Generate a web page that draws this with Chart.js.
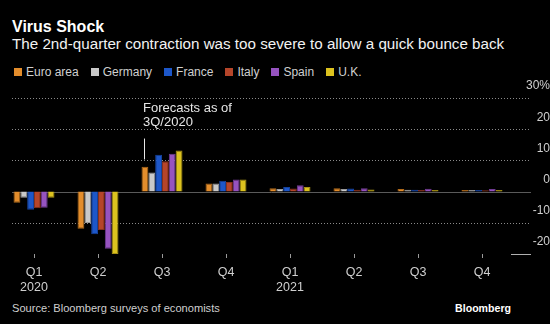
<!DOCTYPE html>
<html>
<head>
<meta charset="utf-8">
<script src="https://cdn.jsdelivr.net/npm/chart.js@4/dist/chart.umd.min.js"></script>
<style>
  html, body { margin: 0; padding: 0; background: #000; }
  body { width: 550px; height: 324px; position: relative; overflow: hidden;
         font-family: "Liberation Sans", Arial, sans-serif; color: #fff; }
  .txt { position: absolute; white-space: nowrap; }
  #title { left: 12px; top: 17px; height: 20px; line-height: 20px; font-size: 16px; font-weight: bold; }
  #subtitle { left: 12px; top: 34px; height: 20px; line-height: 20px; font-size: 15.2px; color: #f2f2f2; }
  #legend { position: absolute; left: 14px; top: 64px; height: 16px; display: flex; align-items: center; }
  .item { display: flex; align-items: center; margin-right: 12px; font-size: 12px; color: #d0d0d0; }
  .sw { width: 8px; height: 8px; margin-right: 4px; }
  #source { left: 12px; top: 300px; height: 16px; line-height: 16px; font-size: 11.1px; color: #cfcfcf; }
  #brand { right: 39px; top: 300px; height: 16px; line-height: 16px; font-size: 10.6px; font-weight: bold; color: #fff; }
  canvas { position: absolute; left: 0; top: 0; }
</style>
</head>
<body>
<div id="title" class="txt">Virus Shock</div>
<div id="subtitle" class="txt">The 2nd-quarter contraction was too severe to allow a quick bounce back</div>
<div id="legend"></div>
<div id="source" class="txt">Source: Bloomberg surveys of economists</div>
<div id="brand" class="txt">Bloomberg</div>
<canvas id="chart" width="550" height="324"></canvas>
<script>
// Quarter-on-quarter GDP change, % (actuals for 1H 2020, survey forecasts afterwards)
const quarters = ['Q1', 'Q2', 'Q3', 'Q4', 'Q1', 'Q2', 'Q3', 'Q4'];
const years = ['2020', '', '', '', '2021', '', '', ''];
const seriesNames = ['Euro area', 'Germany', 'France', 'Italy', 'Spain', 'U.K.'];

const euroArea = [-3.6, -11.9, 8.0, 2.6, 1.1, 1.1, 0.8, 0.5];
const germany  = [-2.0, -10.1, 6.1, 2.6, 0.8, 0.8, 0.6, 0.5];
const france   = [-5.8, -13.7, 11.8, 3.5, 1.5, 1.0, 0.6, 0.5];
const italy    = [-5.3, -12.3, 9.7, 3.1, 1.0, 0.6, 0.5, 0.4];
const spain    = [-5.2, -18.3, 12.1, 3.9, 2.0, 1.1, 0.9, 0.8];
const uk       = [-2.0, -20.0, 13.2, 3.9, 1.5, 0.7, 0.5, 0.5];

const yTicks = [-20, -10, 0, 10, 20, 30];

const fills   = ['#e38d2c', '#c9c9c9', '#1d57c9', '#b5452a', '#9653c0', '#dcc21f'];
const borders = ['#b06a1a', '#9a9a9a', '#15429c', '#86311c', '#703b93', '#a89214'];
const values  = [euroArea, germany, france, italy, spain, uk];

const FONT = '"Liberation Sans", Arial, sans-serif';

// HTML legend
const legendEl = document.getElementById('legend');
seriesNames.forEach((name, i) => {
  const item = document.createElement('div');
  item.className = 'item';
  const sw = document.createElement('span');
  sw.className = 'sw';
  sw.style.background = fills[i];
  const label = document.createElement('span');
  label.textContent = name;
  item.appendChild(sw);
  item.appendChild(label);
  legendEl.appendChild(item);
});

// Dotted gridlines, zero line and the forecast marker
const decorations = {
  id: 'decorations',
  beforeDatasetsDraw(chart) {
    const { ctx } = chart;
    const y = chart.scales.y;
    const left = 12, right = 531;
    ctx.save();
    ctx.lineWidth = 1;
    yTicks.forEach(v => {
      const py = Math.round(y.getPixelForValue(v)) + 0.5;
      ctx.beginPath();
      if (v === 0) {
        ctx.setLineDash([]);
        ctx.strokeStyle = '#5a5a5a';
        ctx.moveTo(left, py); ctx.lineTo(right, py);
      } else if (v === -20) {
        ctx.setLineDash([]);
        ctx.strokeStyle = '#b0b0b0';
        ctx.moveTo(511, py); ctx.lineTo(right, py);
      } else {
        ctx.setLineDash([1, 2]);
        ctx.strokeStyle = '#8a8a8a';
        ctx.moveTo(left, py); ctx.lineTo(right, py);
      }
      ctx.stroke();
    });
    ctx.restore();
  },
  afterDraw(chart) {
    const { ctx } = chart;
    const x = chart.scales.x, y = chart.scales.y;
    const mx = Math.round(x.getPixelForValue(2) - 18) + 0.5;
    ctx.save();
    ctx.strokeStyle = '#e8e8e8';
    ctx.lineWidth = 1;
    ctx.beginPath();
    ctx.moveTo(mx, y.getPixelForValue(17));
    ctx.lineTo(mx, y.getPixelForValue(10.3));
    ctx.stroke();
    ctx.fillStyle = '#e6e6e6';
    ctx.font = '13px ' + FONT;
    ctx.textBaseline = 'middle';
    ctx.textAlign = 'left';
    ctx.fillText('Forecasts as of', mx - 1.5, 108);
    ctx.fillText('3Q/2020', mx - 1.5, 122);
    ctx.restore();
  }
};

new Chart(document.getElementById('chart'), {
  type: 'bar',
  data: {
    labels: quarters.map((q, i) => years[i] ? [q, years[i]] : [q]),
    datasets: seriesNames.map((name, i) => ({
      label: name,
      data: values[i],
      backgroundColor: fills[i],
      borderColor: borders[i],
      borderWidth: 1,
      barPercentage: 1,
      categoryPercentage: 0.64
    }))
  },
  options: {
    responsive: false,
    animation: false,
    layout: { padding: { top: 98, left: 2, right: 0, bottom: 0 } },
    plugins: { legend: { display: false }, tooltip: { enabled: false } },
    scales: {
      x: {
        offset: true,
        afterFit(scale) { scale.height = 70; },
        border: { display: false },
        grid: { display: true, offset: false, drawOnChartArea: false, drawTicks: true,
                tickLength: 4, color: '#9a9a9a', tickColor: '#9a9a9a' },
        ticks: { color: '#cfcfcf', padding: 7, maxRotation: 0, autoSkip: false,
                 font: { family: FONT, size: 12.5, lineHeight: 1.2 } }
      },
      y: {
        position: 'right',
        min: -20, max: 30,
        afterFit(scale) { scale.width = 36; },
        afterBuildTicks(scale) { scale.ticks = yTicks.map(v => ({ value: v })); },
        border: { display: false },
        grid: { display: false, drawTicks: false },
        ticks: {
          color: '#cfcfcf', padding: 2, crossAlign: 'far', labelOffset: -12,
          font: { family: FONT, size: 12 },
          callback: v => v === 30 ? '30%' : String(v)
        }
      }
    }
  },
  plugins: [decorations]
});
</script>
</body>
</html>
